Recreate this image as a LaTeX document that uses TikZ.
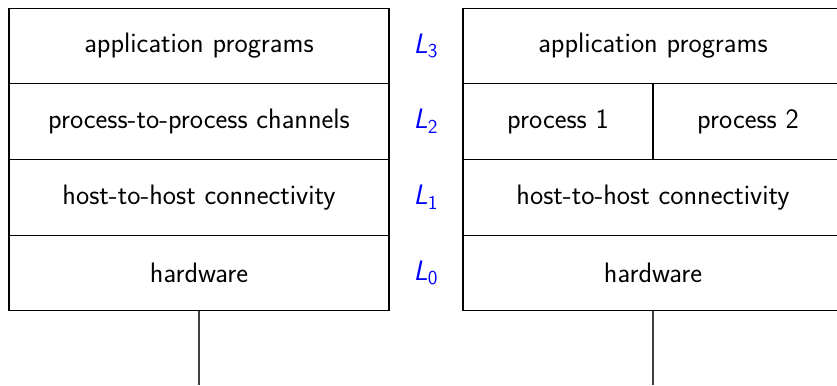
\documentclass[tikz,border=0pt]{standalone}
\usetikzlibrary{positioning}
\newcommand{\lay}[1]{\textit{L}\textsubscript{#1}}

\begin{document}
\begin{tikzpicture}[
  node distance=0pt,
  every node/.style={font=\sffamily\fontsize{16}{19}\selectfont,align=center},
  layer/.style={draw=black,line width=0.6pt,outer sep=0pt,minimum height=1.513cm,minimum width=7.6cm},
  half/.style={layer,minimum width=3.8cm},
  tag/.style={text=blue},
  base/.style={line width=0.6pt,black!75}
]
  \useasboundingbox (0,0) rectangle (16.74,-7.7);
  % left stack
  \node[layer] (app) at (3.98,-0.92) {application programs};
  \node[layer,below=of app] (chan) {process-to-process channels};
  \node[layer,below=of chan] (host) {host-to-host connectivity};
  \node[layer,below=of host] (hw) {hardware};
  % right stack
  \node[layer] (rapp) at (13.06,-0.92) {application programs};
  \node[half,below=of rapp.south west,anchor=north west] (proc1) {process 1};
  \node[half,right=of proc1] (proc2) {process 2};
  \node[layer,below=of rapp.south,yshift=-1.513cm] (rhost) {host-to-host connectivity};
  \node[layer,below=of rhost] (rhw) {hardware};
  % layer labels
  \node[tag] (l3) at (8.52,-0.92) {\lay{3}};
  \node[tag] (l2) at (8.52,-2.43) {\lay{2}};
  \node[tag] (l1) at (8.52,-3.94) {\lay{1}};
  \node[tag] (l0) at (8.52,-5.46) {\lay{0}};
  % wires
  \coordinate (hwend) at (hw.south |- 0,-7.7);
  \coordinate (rhwend) at (rhw.south |- 0,-7.7);
  \draw[base] (hw.south)--(hwend);
  \draw[base] (rhw.south)--(rhwend);
\end{tikzpicture}
\end{document}
